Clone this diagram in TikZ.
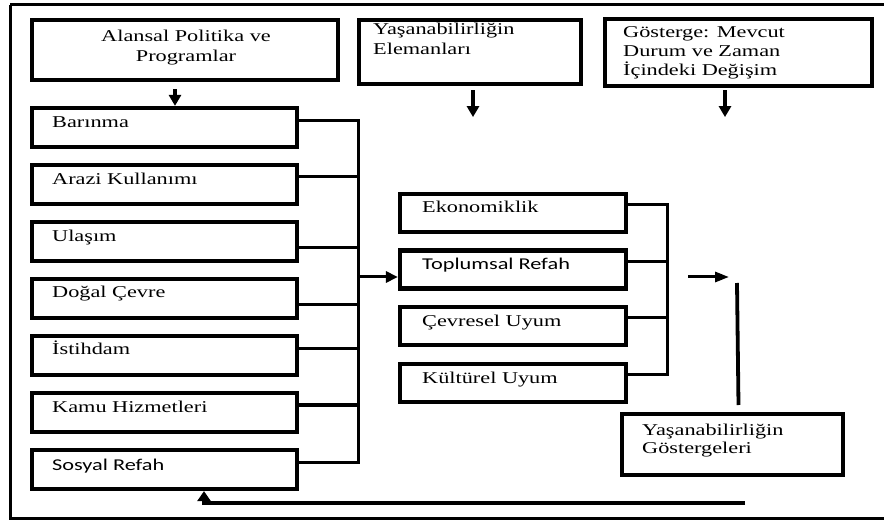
\documentclass[tikz,border=0pt]{standalone}
\usepackage{fontspec}
\usepackage{graphicx}
\setmainfont{Liberation Serif}
\newfontfamily\calfont{Carlito}
\newcommand\sx[1]{\scalebox{1.35}[1]{#1}}
\usetikzlibrary{arrows.meta,calc}
\begin{document}
\begin{tikzpicture}[x=1pt,y=-1pt,
  box/.style={draw,line width=4.2pt,inner sep=0pt},
  txt/.style={inner sep=0pt,anchor=base west,align=left,font=\fontsize{16.5}{20}\selectfont},
  conn/.style={line width=3pt},
  arrT/.style={line width=3.2pt,-{Triangle[length=11pt,width=12pt]}},
  arrM/.style={line width=3pt,-{Triangle[length=12pt,width=11pt]}}]
\useasboundingbox (0,0) rectangle (884,521);
% outer frame
\draw[line width=3pt] (10,5) -- (900,5) (10,5) -- (10,518) -- (900,518);
% top boxes
\node[box,minimum width=306pt,minimum height=60pt] (t1) at (185,50) {};
\node[box,minimum width=222pt,minimum height=64pt] (t2) at (470,52) {};
\node[box,minimum width=267pt,minimum height=67pt] (t3) at (738.5,52.5) {};
\node[txt,anchor=base,align=center] (t1l) at (186,62) {\sx{Alansal Politika ve}\\\sx{Programlar}};
\node[txt] (t2l) at (373,55) {\sx{Yaşanabilirliğin}\\\sx{Elemanları}};
\node[txt,font=\fontsize{16.5}{19}\selectfont] (t3l) at (623,76) {\sx{Gösterge: Mevcut}\\\sx{Durum ve Zaman}\\\sx{İçindeki Değişim}};
% left boxes
\foreach \i/\c in {1/127.5,2/184.5,3/241.5,4/298.5,5/355.5,6/412.5,7/469.5}{
  \node[box,minimum width=265pt,minimum height=39pt] (b\i) at (164.5,\c) {};
}
\node[txt] (b1l) at (52,128) {\sx{Barınma}};
\node[txt] (b2l) at (52,185) {\sx{Arazi Kullanımı}};
\node[txt] (b3l) at (52,242) {\sx{Ulaşım}};
\node[txt] (b4l) at (52,298) {\sx{Doğal Çevre}};
\node[txt] (b5l) at (52,355) {\sx{İstihdam}};
\node[txt] (b6l) at (52,412) {\sx{Kamu Hizmetleri}};
\node[txt,font=\fontsize{16.5}{20}\calfont] (b7l) at (52,470) {\sx{Sosyal Refah}};
% middle boxes
\foreach \i/\c in {1/213,2/269.5,3/326,4/383}{
  \node[box,minimum width=226pt,minimum height=38pt] (m\i) at (513,\c) {};
}
\node[txt] (m1l) at (422,213) {\sx{Ekonomiklik}};
\node[txt,font=\fontsize{16.5}{20}\calfont] (m2l) at (422,270) {\sx{Toplumsal Refah}};
\node[txt] (m3l) at (422,327) {\sx{Çevresel Uyum}};
\node[txt] (m4l) at (422,384) {\sx{Kültürel Uyum}};
% indicator box
\node[box,minimum width=221pt,minimum height=61pt] (g) at (732.5,444.5) {};
\node[txt,font=\fontsize{16.5}{18.5}\selectfont] (gl) at (642,453.5) {\sx{Yaşanabilirliğin}\\\sx{Göstergeleri}};
% top arrows
\coordinate (a1) at ($(t1.south)+(-10,7)$);
\draw[arrT] (a1) -- (a1 |- b1.north);
\coordinate (a2) at ($(t2.south)+(3,4)$);
\coordinate (a2e) at ($(a2)+(0,27)$);
\draw[arrT] (a2) -- (a2e);
\coordinate (a3) at ($(t3.south)+(-13.5,2)$);
\coordinate (a3e) at ($(a3)+(0,27)$);
\draw[arrT] (a3) -- (a3e);
% left bus
\coordinate (busL) at (358,0);
\coordinate (c1) at ($(b1.east)+(0,-6.5)$);
\coordinate (c2) at ($(b2.east)+(0,-7.5)$);
\coordinate (c3) at ($(b3.east)+(0,6.5)$);
\coordinate (c4) at ($(b4.east)+(0,6.5)$);
\coordinate (c5) at ($(b5.east)+(0,-7)$);
\coordinate (c6) at ($(b6.east)+(0,-7.5)$);
\coordinate (c7) at ($(b7.east)+(0,-7.5)$);
\draw[conn] (c1) -- (c1 -| busL) -- (c7 -| busL) -- (c7);
\foreach \i in {2,...,6}{\draw[conn] (c\i) -- (c\i -| busL);}
\coordinate (e2) at ($(m2.west)+(0,7.5)$);
\draw[arrM] (e2 -| busL) -- (e2);
% middle bus
\coordinate (busM) at (667,0);
\coordinate (d1) at ($(m1.east)+(0,-8)$);
\coordinate (d2) at ($(m2.east)+(0,-7.5)$);
\coordinate (d3) at ($(m3.east)+(0,-8)$);
\coordinate (d4) at ($(m4.east)+(0,-8)$);
\draw[conn] (d1) -- (d1 -| busM) -- (d4 -| busM) -- (d4);
\foreach \i in {2,3}{\draw[conn] (d\i) -- (d\i -| busM);}
% right arrow and vertical line
\coordinate (r1) at (688,277);
\coordinate (r2) at (729,277);
\draw[arrM,-{Triangle[length=14pt,width=10pt]}] (r1) -- (r2);
\coordinate (v1) at (737,283);
\coordinate (v2) at (738.5,405);
\draw[line width=3.8pt] (v1) -- (v2);
% feedback
\coordinate (f1) at (745,503);
\coordinate (f2) at (204,503);
\draw[line width=3.2pt,-{Triangle[length=10pt,width=13pt]}] (f1) -- (f2) -- (f2 |- b7.south);
\end{tikzpicture}
\end{document}
